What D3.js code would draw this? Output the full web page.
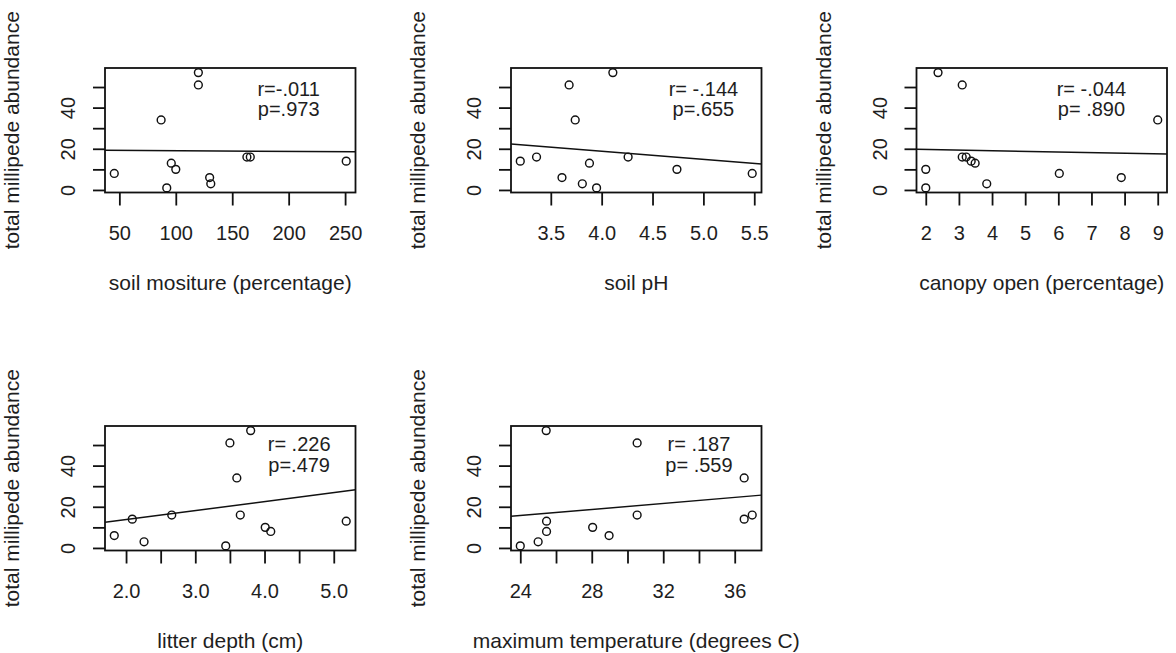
<!DOCTYPE html>
<html>
<head>
<meta charset="utf-8">
<script src="https://cdn.jsdelivr.net/npm/d3@7"></script>
<style>
  body { margin: 0; background: #fff; }
  svg text { font-family: "Liberation Sans", Arial, sans-serif; fill: #1e1e1e; }
</style>
</head>
<body>
<div id="chart"></div>
<script>
// one value per sampling site, same order in every array
let abundance    = [1, 3, 6, 8, 10, 13, 14, 16, 16, 34, 51, 57];
let soilMoisture = [92, 131, 130, 45.5, 100, 96, 251, 163, 166, 87, 120, 120];
let soilPH       = [3.95, 3.81, 3.61, 5.48, 4.74, 3.88, 3.20, 3.36, 4.26, 3.74, 3.68, 4.11];
let canopyOpen   = [2.0, 3.84, 7.90, 6.03, 2.0, 3.49, 3.37, 3.10, 3.22, 9.0, 3.10, 2.37];
let litterDepth  = [3.44, 2.26, 1.83, 4.09, 4.01, 5.18, 2.09, 2.66, 3.65, 3.60, 3.50, 3.80];
let maxTemp      = [24.0, 25.0, 28.97, 25.47, 28.05, 25.47, 36.53, 30.54, 36.98, 36.53, 30.54, 25.45];

let xTitles = ["soil mositure (percentage)", "soil pH", "canopy open (percentage)",
               "litter depth (cm)", "maximum temperature (degrees C)"];
let yTitle = "total millipede abundance";

let xTicks = [
  [50, 100, 150, 200, 250],
  [3.5, 4.0, 4.5, 5.0, 5.5],
  [2, 3, 4, 5, 6, 7, 8, 9],
  [2.0, 2.5, 3.0, 3.5, 4.0, 4.5, 5.0],
  [24, 26, 28, 30, 32, 34, 36]
];
let xTickLabels = [
  ["50", "100", "150", "200", "250"],
  ["3.5", "4.0", "4.5", "5.0", "5.5"],
  ["2", "3", "4", "5", "6", "7", "8", "9"],
  ["2.0", "", "3.0", "", "4.0", "", "5.0"],
  ["24", "", "28", "", "32", "", "36"]
];
let yTicks = [0, 10, 20, 30, 40, 50];
let yTickLabels = ["0", "", "20", "", "40", ""];

// regression lines (abline of lm)
let fitIntercepts = [19.46, 34.6, 20.24, 5.1, -1.94];
let fitSlopes     = [-0.0037, -3.95, -0.30, 4.35, 0.736];

// r / p annotations, placed in data coordinates
let rLabels = ["r=-.011", "r= -.144", "r= -.044", "r= .226", "r= .187"];
let pLabels = ["p=.973", "p=.655", "p= .890", "p=.479", "p= .559"];
let noteX  = [200, 5.0, 7.0, 4.5, 34];
let noteRY = [45.5, 45.5, 45.5, 46.9, 46.9];
let notePY = [35.8, 35.8, 35.8, 37.1, 37.1];

let predictors = [soilMoisture, soilPH, canopyOpen, litterDepth, maxTemp];

let width = 1176, height = 653;
let colLeft = [105, 511, 916.5];
let rowTop = [68, 426];
let boxW = 250.5, boxH = 124.5;
let ink = "#111";

let svg = d3.select("#chart")
  .append("svg")
  .attr("width", width)
  .attr("height", height);

// R style axis range: data range stretched by 4% each side
function pad(ext) {
  let e = (ext[1] - ext[0]) * 0.04;
  return [ext[0] - e, ext[1] + e];
}

let yDomain = pad(d3.extent(abundance));

predictors.forEach(function (xs, i) {
  let left = colLeft[i % 3];
  let top = rowTop[Math.floor(i / 3)];

  let g = svg.append("g").attr("transform", `translate(${left},${top})`);

  let x = d3.scaleLinear().domain(pad(d3.extent(xs))).range([0, boxW]);
  let y = d3.scaleLinear().domain(yDomain).range([boxH, 0]);

  g.append("clipPath").attr("id", "clip" + i)
    .append("rect").attr("width", boxW).attr("height", boxH);

  let plot = g.append("g").attr("clip-path", `url(#clip${i})`);

  // points
  plot.selectAll("circle")
    .data(xs.map((v, j) => [v, abundance[j]]))
    .join("circle")
    .attr("cx", d => x(d[0]))
    .attr("cy", d => y(d[1]))
    .attr("r", 3.9)
    .attr("fill", "none")
    .attr("stroke", ink)
    .attr("stroke-width", 1.45);

  // fitted line across the whole plot region
  let dom = x.domain();
  plot.append("path")
    .datum(dom)
    .attr("d", d3.line()
      .x(d => x(d))
      .y(d => y(fitIntercepts[i] + fitSlopes[i] * d)))
    .attr("fill", "none")
    .attr("stroke", ink)
    .attr("stroke-width", 1.5);

  // x axis
  let xa = g.append("g")
    .attr("transform", `translate(0,${boxH})`)
    .call(d3.axisBottom(x)
      .tickValues(xTicks[i])
      .tickFormat((d, k) => xTickLabels[i][k])
      .tickSize(13)
      .tickSizeOuter(0));
  xa.select(".domain").remove();
  xa.selectAll("line").attr("stroke", ink).attr("stroke-width", 1.8);
  xa.selectAll("text")
    .attr("y", 47).attr("dy", null)
    .style("font-size", "20px")
    .attr("fill", "#1e1e1e");

  // y axis, labels parallel to the axis
  let ya = g.append("g")
    .call(d3.axisLeft(y)
      .tickValues(yTicks)
      .tickFormat((d, k) => yTickLabels[k])
      .tickSize(12)
      .tickSizeOuter(0));
  ya.select(".domain").remove();
  ya.selectAll("line").attr("stroke", ink).attr("stroke-width", 1.8);
  ya.selectAll("text")
    .attr("x", 0).attr("y", -30).attr("dy", null)
    .attr("transform", "rotate(-90)")
    .attr("text-anchor", "middle")
    .style("font-size", "20px")
    .attr("fill", "#1e1e1e");

  // box
  g.append("rect")
    .attr("width", boxW)
    .attr("height", boxH)
    .attr("fill", "none")
    .attr("stroke", ink)
    .attr("stroke-width", 1.8);

  // titles
  g.append("text")
    .attr("x", boxW / 2)
    .attr("y", boxH + 97)
    .attr("text-anchor", "middle")
    .style("font-size", "21px")
    .text(xTitles[i]);

  g.append("text")
    .attr("transform", `translate(-86,${boxH / 2}) rotate(-90)`)
    .attr("text-anchor", "middle")
    .style("font-size", "21px")
    .text(yTitle);

  // correlation note
  g.append("text")
    .attr("x", x(noteX[i]))
    .attr("y", y(noteRY[i]))
    .attr("text-anchor", "middle")
    .style("font-size", "20px")
    .text(rLabels[i]);
  g.append("text")
    .attr("x", x(noteX[i]))
    .attr("y", y(notePY[i]))
    .attr("text-anchor", "middle")
    .style("font-size", "20px")
    .text(pLabels[i]);
});
</script>
</body>
</html>
